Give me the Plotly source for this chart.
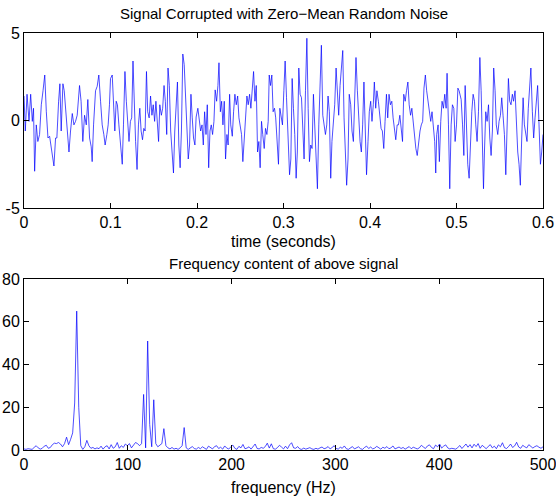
import plotly.graph_objects as go

# ---- time-domain signal ----
time_ms = [0,1.5,3.5,5.8,7.7,9.6,11,12.3,14.2,16,18,20,22,24,25.8,27.7,29.6,31.5,33.5,34.6,36.5,38,40,41.5,43,45,46.5,48,50,52,53.8,55.8,57.7,59.6,61.5,64.2,66,68,70,72,73.8,75.8,77.7,78.8,80.4,82.7,84.6,86.5,88.5,90.4,92.3,93.8,95.8,97.3,98.8,
           100,102,104,105,106.6,108,109.7,111.7,113.6,115,116.7,118.3,120,121.4,123,124.5,126,127.6,129,130.7,132.3,133.9,135.4,137,138.5,140,141.6,143,144.7,146.3,147.9,149.4,151,152.5,154,155.6,157,158.8,160.3,161.9,163.4,165,166.5,168,169.6,171.2,172.8,174.3,175.9,177.4,179,180.5,182,183.6,185.2,186.8,188.3,189.9,191.4,193,194.5,196,197.6,199,
           201,202.7,204.2,205.8,207.3,208.8,210.4,211.9,213.5,215,216.5,218,219.6,221,222.7,224.2,225.4,227,228.5,230,231.5,233,234.6,236,237.7,239,240.8,242.3,243.8,245.4,247,248.5,250,251.5,253,254.6,256,257.7,259.2,260.8,262.3,263.8,265.4,267,268.5,270,271.5,273,274.6,276,277.7,279.2,280.8,282.3,283.5,285,286.5,288,289.6,291,292.7,294.2,295.8,297.3,298.8,300.4,301.9,303.5,305,307,
           308.5,310,311.5,313,314.6,316,317.7,319.2,320.8,322.3,323.8,325.4,327,328.5,330,331.5,333,334.6,336,337.7,339.2,340.8,342.3,343.8,345.4,347,348.5,350,351.5,353,354.6,356,357.7,359.2,360.8,362.3,363.8,365.4,367,368.5,370,371.5,373,374.6,376,377.7,379.2,380.8,382.3,383.8,385.4,387,388.5,390,391.5,393,394.6,396,397.7,399.2,400.8,402.3,403.8,
           405,406.6,408,409.7,411.2,412.8,414.3,415.9,417.4,419,420.5,422,423.6,425.2,426.7,428.3,429.8,431.4,432.9,434.5,436,437.6,439,440.7,442.2,443.8,445.3,446.9,448.4,450,451.6,453,454.6,456.2,457.8,459.3,460.9,462.4,464,465.5,467,468.6,470.2,471.7,473.3,474.8,476,477.1,478.7,480.2,481.8,483.3,484.9,486.4,488,489.1,490.7,492.2,493.8,495.3,496.9,498.4,500,501.6,503,
           505.4,507,508.5,510,511.5,513,514.6,516,517.7,519.2,520.8,522.3,523.8,525.4,527,528.5,530,531.2,532.3,533.8,535.4,537,538.5,540,541.5,543,544.6,546,547.7,549.2,550.8,552.3,553.8,555.4,557,558.5,560,561.5,563,564.6,566,567.7,569.2,570.8,572.3,573.8,575.4,577,578.5,580,581.5,583,584.6,586,587.7,589.2,590.8,592.3,593.8,595.4,597,598.5,600]

amplitude = [1.4,-0.6,1.5,-0.05,1.5,-0.05,0.7,-2.9,-0.25,-1.2,-0.8,0.9,1.7,2.6,0.5,-1.0,-0.9,-1.6,-2.35,-2.6,-1.0,-1.0,1.1,2.1,-0.6,2.1,1.7,0.7,-0.8,-1.8,-0.6,0.4,-0.25,-0.05,0.3,2.0,1.1,-1.2,0.3,-0.25,1.2,-1.0,-1.5,-2.35,-0.25,1.7,1.95,2.6,1.1,-0.25,-0.8,-1.4,-0.8,-0.25,0.9,
             2.4,2.6,0.5,-0.6,1.1,0.9,-0.25,-1.4,-2.5,-0.25,2.8,1.1,-0.05,-1.2,-0.05,0.15,3.4,0.7,-1.2,-2.8,-0.25,0.7,-0.6,-1.1,-0.45,-0.6,2.8,0.5,0.15,1.4,0.3,0.9,-0.05,1.1,-0.25,-1.2,0.9,0.3,0.7,2.0,1.1,-0.8,3.0,2.0,-0.6,-2.2,-3.0,-0.6,0.9,2.2,-1.4,-2.7,-0.6,3.8,3.2,1.5,-0.25,-2.2,-1.4,1.5,0.15,-1.0,-1.4,0.2,
             0.7,0.15,-0.6,-0.25,-1.4,0.5,-0.8,0.9,-2.7,-0.6,-0.25,-0.8,-0.05,1.75,1.1,2.0,3.3,0.5,1.1,-0.25,1.1,-2.2,-0.8,-1.4,1.5,-0.25,-0.9,0.5,1.5,0.9,1.4,0.15,-0.25,-0.8,-2.35,-1.0,-0.45,1.4,0.9,1.5,0.7,1.7,2.8,1.1,2.0,-1.8,-1.2,-2.7,-0.05,-0.8,-1.6,-0.45,-0.8,-0.05,2.6,2.0,2.6,0.5,0.7,0.15,-1.2,-2.5,0.7,0.15,-0.25,1.7,3.4,1.3,-1.0,-3.1,
             -2.2,2.4,0.7,-0.8,-3.3,-1.8,3.0,1.5,1.3,-0.45,-2.2,1.7,4.7,0.7,-2.35,-1.4,-1.6,1.5,-0.05,-2.0,-3.9,-0.25,2.6,4.3,0.3,-0.25,-0.8,-0.25,1.4,0.5,-3.3,-1.2,-0.25,0.9,3.0,1.7,0.3,2.0,3.4,4.0,0.15,-1.8,-3.7,-2.2,1.5,0.9,-0.6,-1.2,1.7,3.6,1.7,-0.05,-1.2,-1.8,-0.25,2.2,-0.25,-3.1,-1.2,0.5,1.1,-0.05,0.9,
             2.2,0.7,1.7,1.1,0.3,-0.45,-0.6,-1.6,-0.05,1.5,0.15,1.5,0.9,1.1,0.15,-0.6,-1.1,-0.25,-0.25,0.3,-0.45,-1.2,1.5,1.1,1.7,2.2,0.9,0.3,0.7,-0.25,-0.8,-1.6,-2.0,-1.2,-0.6,-0.25,-0.05,1.85,2.6,1.7,1.1,0.5,-0.05,0.5,-0.25,-1.2,-3.0,-0.8,-0.25,-2.35,-0.05,1.1,0.7,1.5,0.7,2.7,-0.25,-3.9,-0.25,0.9,0.7,-1.2,-0.25,1.85,1.7,
             1.2,-0.25,-2.0,2.0,-0.05,-2.5,-3.3,-1.2,0.5,1.5,1.1,-0.25,-1.2,0.5,3.6,1.7,-1.2,-3.9,-1.8,0.5,-0.05,0.9,-1.0,-2.0,-0.6,3.0,1.7,-0.25,-0.8,-0.05,0.3,1.3,0.3,-0.8,-3.1,0.5,2.4,1.1,0.9,1.5,1.1,1.7,-0.6,-1.8,-2.5,-3.7,-1.0,1.3,-0.25,-0.8,-1.2,0.7,1.85,3.0,0.5,-1.0,0.15,1.1,2.0,-0.25,-2.5,-1.8,-0.8]

# ---- power spectrum, 1000/512 Hz bin spacing ----
sample_rate_hz = 1000
fft_points = 512
power = [0.5,0.3,0.6,0.4,0.3,1.2,2.0,1.0,0.4,0.8,1.8,2.2,0.8,1.2,2.5,3.2,3.0,3.5,2.8,1.5,3.0,
         6.0,2.5,5.0,8.0,22,65,20,2.0,0.3,1.5,4.5,2.0,0.8,1.2,0.5,1.0,0.6,1.8,0.4,1.5,
         2.0,0.5,2.5,0.8,1.5,3.5,0.8,2.0,1.2,2.8,2.0,3.0,1.0,2.5,3.5,3.0,2.0,3.0,26,1.0,
         51,12,1.5,23.5,3.0,1.5,2.5,3.0,10,2.0,1.0,0.5,1.2,0.4,0.8,0.3,1.0,2.0,10.5,1.0,
         0.3,0.8,1.6,0.7,0.4,1.2,0.6,1.5,1.0,0.3,1.8,1.2,0.5,1.6,2.0,0.7,1.3,0.4,1.9,0.9,
         0.5,1.4,2.3,0.8,0.3,1.7,1.0,2.6,0.6,0.9,1.5,0.4,1.8,2.8,0.7,0.5,1.2,0.8,1.6,3.2,
         0.9,2.9,0.6,0.4,1.1,2.2,1.4,0.5,1.8,0.6,2.4,3.4,1.0,0.8,1.6,0.5,0.3,0.9,0.4,0.7,
         1.1,0.5,0.3,0.8,0.4,1.0,1.4,0.6,0.9,1.6,0.5,1.2,2.0,0.7,0.4,1.3,0.8,1.9,0.6,0.3,
         1.0,1.6,0.5,0.9,1.5,0.6,0.3,1.2,1.8,0.7,1.4,0.5,0.9,1.7,1.1,0.4,1.3,0.8,1.6,0.6,
         1.0,1.9,0.5,0.8,1.4,0.7,1.2,0.4,1.1,1.6,0.6,1.3,0.9,0.5,1.0,2.2,1.4,0.7,1.9,2.4,
         1.2,0.6,2.3,1.5,2.8,0.9,1.8,2.4,1.0,0.5,0.8,0.6,0.4,1.2,2.1,0.7,1.9,2.8,1.3,2.5,
         1.0,2.7,1.6,3.0,0.8,2.2,1.4,0.6,1.7,2.5,1.0,1.8,0.6,2.4,1.5,3.4,1.1,0.7,1.6,2.8,
         1.2,1.9,3.6,1.4,0.8,2.2,1.5,1.0,2.5,1.8,0.9,1.6,2.0,1.3,0.8,1.5]
freq_hz = [sample_rate_hz * k / fft_points for k in range(len(power))]

time_ticks = [0, 0.1, 0.2, 0.3, 0.4, 0.5, 0.6]
time_ticktext = ["0", "0.1", "0.2", "0.3", "0.4", "0.5", "0.6"]
amp_ticks = [-5, 0, 5]
amp_ticktext = ["-5", "0", "5"]
freq_ticks = [0, 100, 200, 300, 400, 500]
power_ticks = [0, 20, 40, 60, 80]

time_s = [t / 1000 for t in time_ms]

LINE = "#0000ff"
FONT = "Liberation Sans, Arial, sans-serif"

fig = go.Figure()
fig.add_trace(go.Scatter(x=time_s, y=amplitude, mode="lines",
                         line=dict(color=LINE, width=0.7), xaxis="x", yaxis="y",
                         hoverinfo="skip"))
fig.add_trace(go.Scatter(x=freq_hz, y=power, mode="lines",
                         line=dict(color=LINE, width=0.7), xaxis="x2", yaxis="y2",
                         hoverinfo="skip"))

axis_common = dict(showline=True, linecolor="black", linewidth=1, mirror="allticks",
                   ticks="inside", ticklen=5, tickcolor="black", showgrid=False,
                   zeroline=False, automargin=False, ticklabeloverflow="allow",
                   tickfont=dict(size=16, color="black", family=FONT))

fig.update_layout(
    width=556, height=497,
    margin=dict(l=24, r=13, t=33, b=47),
    paper_bgcolor="white", plot_bgcolor="white",
    showlegend=False,
    font=dict(family=FONT, color="black"),
    xaxis=dict(domain=[0, 1], anchor="y", range=[0, 0.6], tickvals=time_ticks,
               ticktext=time_ticktext, **axis_common),
    yaxis=dict(domain=[0.5803, 1], anchor="x", range=[-5, 5], tickvals=amp_ticks,
               ticktext=amp_ticktext, **axis_common),
    xaxis2=dict(domain=[0, 1], anchor="y2", range=[0, 500], tickvals=freq_ticks,
                **axis_common),
    yaxis2=dict(domain=[0, 0.41], anchor="x2", range=[0, 80], tickvals=power_ticks,
                **axis_common),
    annotations=[
        dict(text="Signal Corrupted with Zero\u2212Mean Random Noise", x=0.5, y=1.0456,
             xref="paper", yref="paper", showarrow=False, xanchor="center", yanchor="middle",
             font=dict(size=15, color="black", family=FONT)),
        dict(text="time (seconds)", x=0.5, y=0.501, xref="paper", yref="paper",
             showarrow=False, xanchor="center", yanchor="middle",
             font=dict(size=16, color="black", family=FONT)),
        dict(text="Frequency content of above signal", x=0.5, y=0.4484, xref="paper",
             yref="paper", showarrow=False, xanchor="center", yanchor="middle",
             font=dict(size=15, color="black", family=FONT)),
        dict(text="frequency (Hz)", x=0.5, y=-0.089, xref="paper", yref="paper",
             showarrow=False, xanchor="center", yanchor="middle",
             font=dict(size=16, color="black", family=FONT)),
    ],
)

fig.write_html("out.html", config={"displayModeBar": False},
               post_script="document.body.style.margin='0';document.body.style.overflow='hidden';")
